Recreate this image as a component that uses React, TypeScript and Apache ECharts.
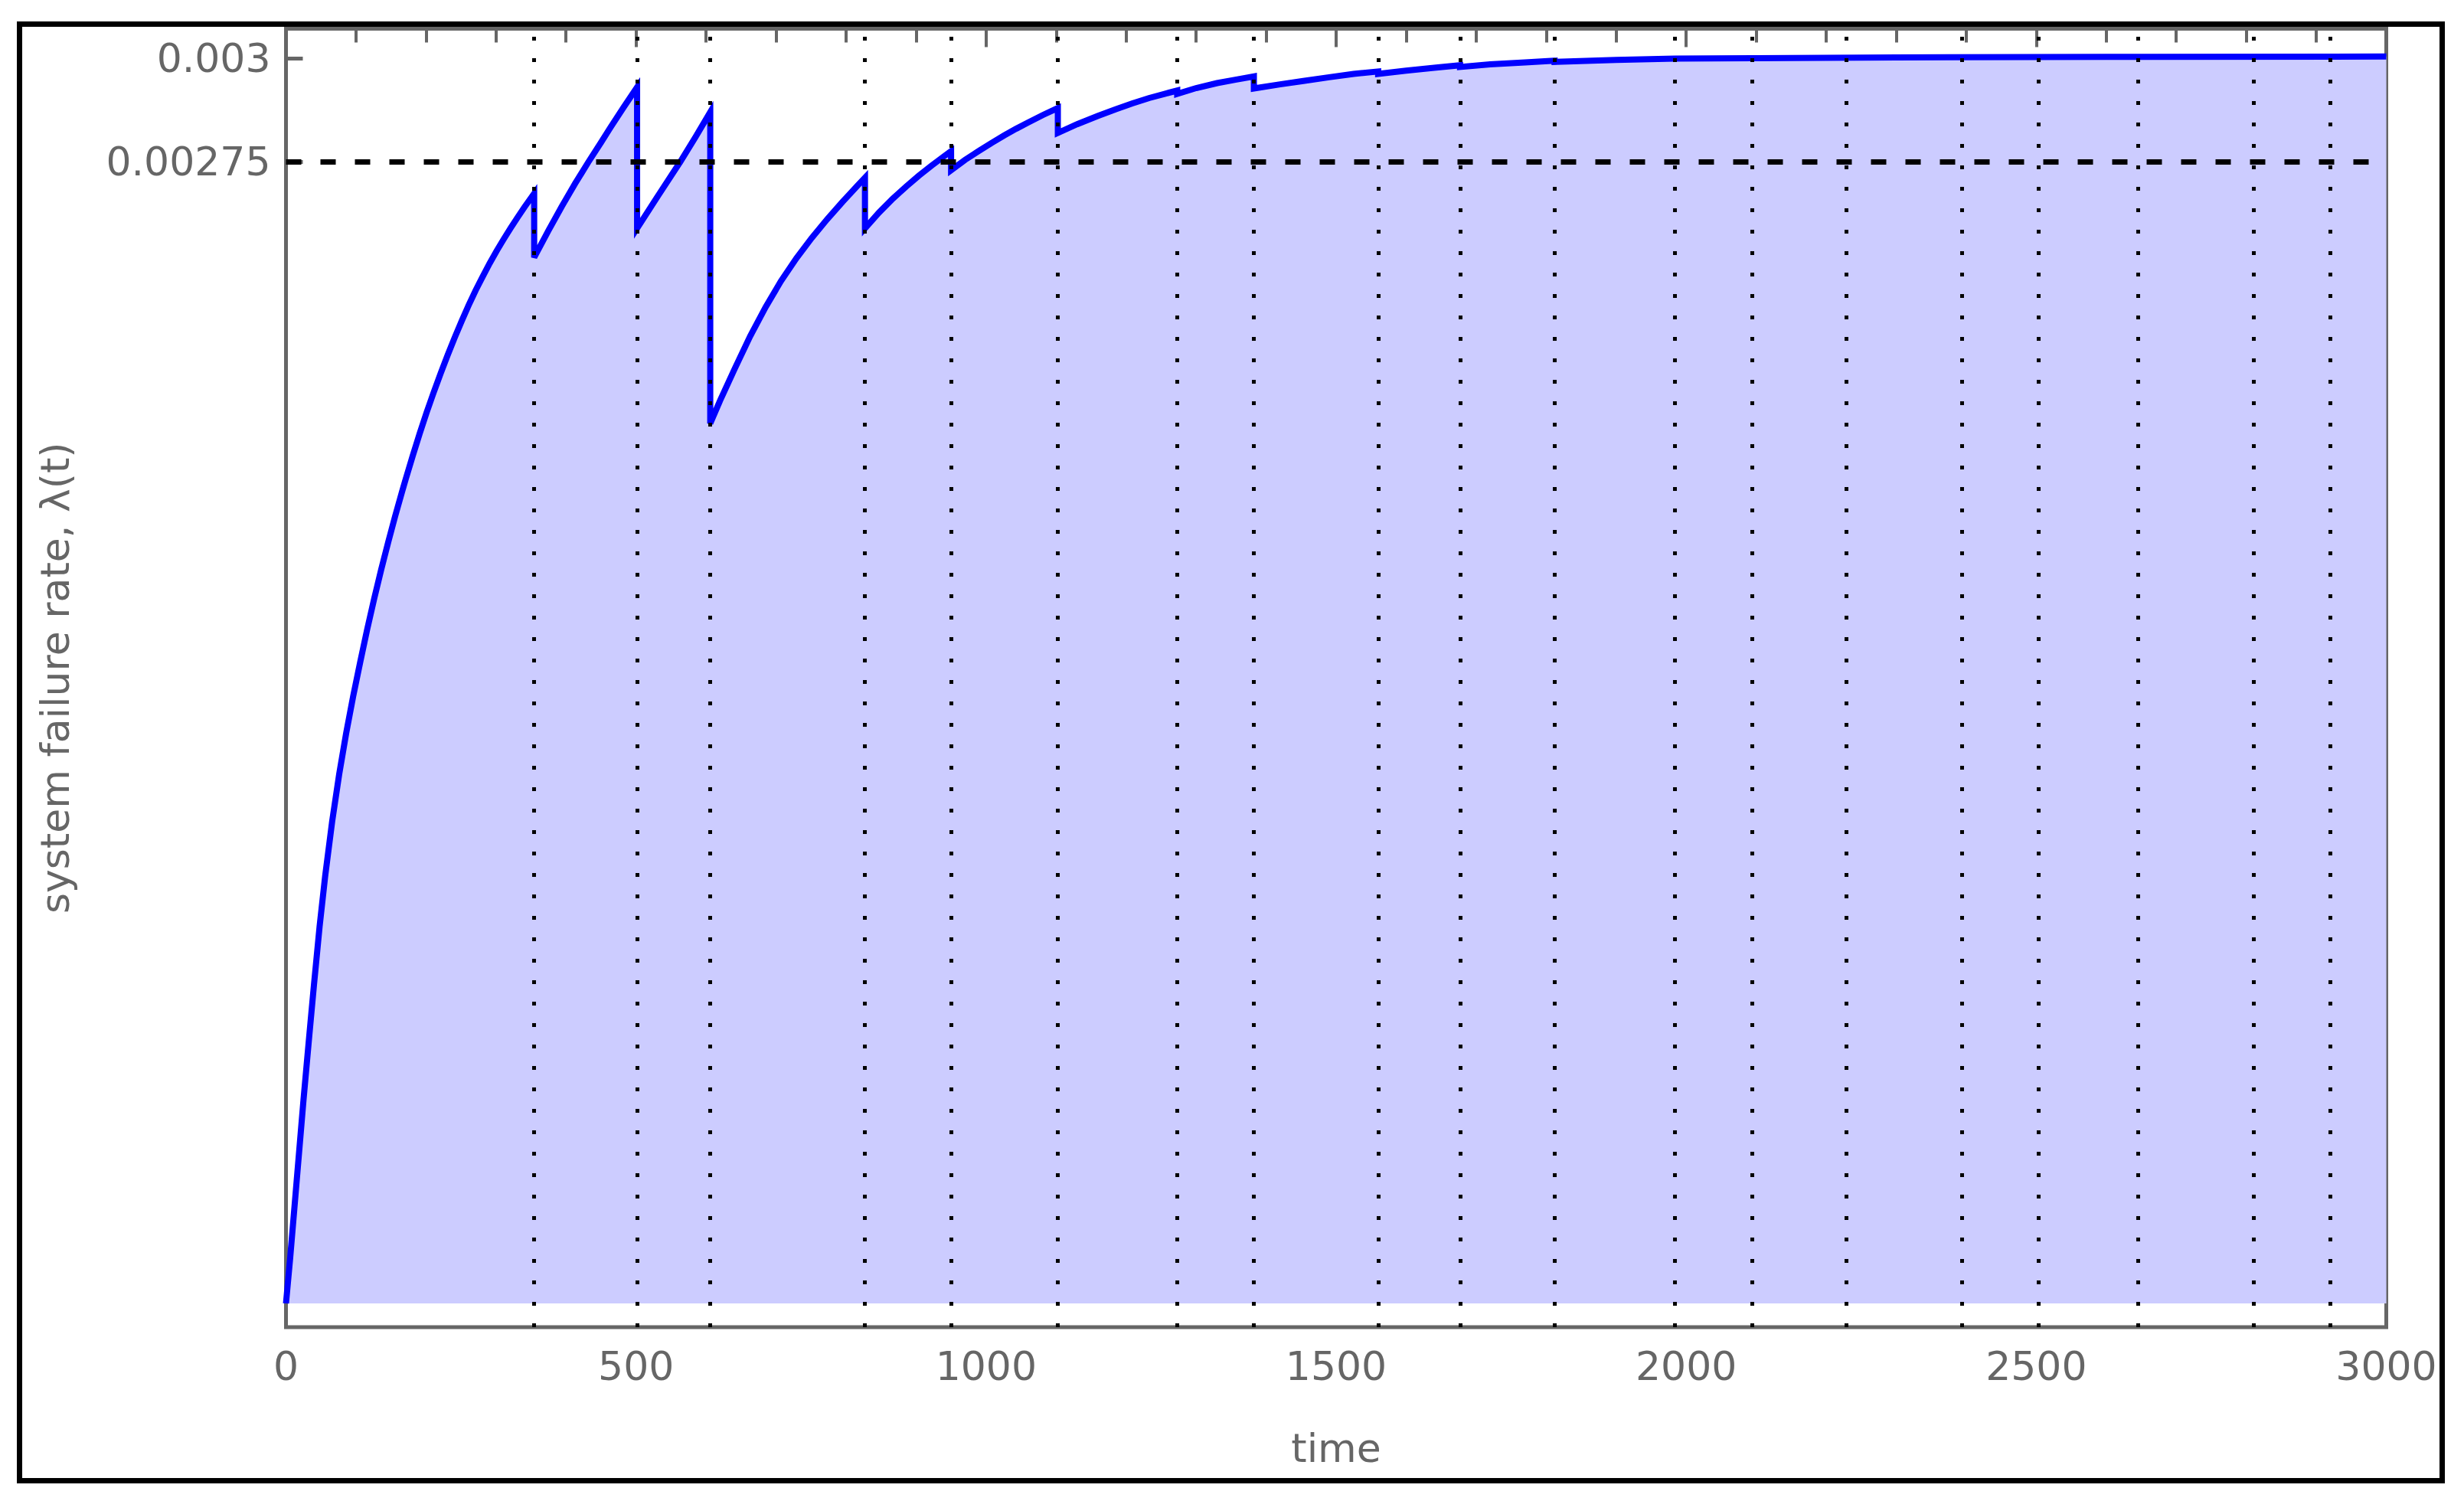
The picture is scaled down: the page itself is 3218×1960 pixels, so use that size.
import React, { useEffect, useRef } from "react";
import * as echarts from "echarts";

// time (x) and system failure rate λ(t) (y); a repeated time marks a drop at a maintenance instant
const timePoints = [
  0, 6, 12, 18, 25, 33, 40, 48, 56, 66, 76, 86, 96, 106, 116, 126, 136, 146, 156, 166, 171, 181, 191, 201, 211, 221, 231, 241, 251, 261, 271, 281, 291, 301, 311, 321, 331, 341, 354.5,
  354.5, 375, 394, 413, 432, 450, 463, 482, 501.5,
  501.5, 532, 563, 585, 606,
  606, 620, 641, 663, 685, 707, 729, 751, 773, 795, 817, 827,
  827, 847, 867, 886, 904, 922, 941, 950,
  950, 970, 990, 1008, 1026, 1043, 1060, 1081, 1102.5,
  1102.5, 1130, 1160, 1185, 1209, 1233, 1257, 1273,
  1273, 1300, 1330, 1356, 1382.5,
  1382.5, 1420, 1453, 1490, 1525, 1560,
  1560, 1600, 1640, 1677,
  1677, 1720, 1770, 1812,
  1812, 1900, 1984, 2100, 2300, 2600, 3000,
];
const failureRate = [
  0, 0.00011, 0.00023, 0.00035, 0.00049, 0.00064, 0.000768, 0.000908, 0.00103, 0.001162, 0.001275, 0.001374, 0.001463, 0.001545, 0.001624, 0.001698, 0.001768, 0.001834, 0.001897, 0.001957, 0.001986, 0.002042, 0.002096, 0.002147, 0.002195, 0.002241, 0.002285, 0.002327, 0.002367, 0.002405, 0.002441, 0.002474, 0.002506, 0.002536, 0.002564, 0.002591, 0.002617, 0.002642, 0.002674,
  0.00252, 0.002585, 0.002643, 0.002698, 0.00275, 0.002797, 0.002832, 0.002881, 0.00293,
  0.00259, 0.00267, 0.00275, 0.00281, 0.00287,
  0.00212, 0.002175, 0.002252, 0.00233, 0.0024, 0.002463, 0.002518, 0.002567, 0.002612, 0.002654, 0.002694, 0.002712,
  0.00259, 0.002628, 0.002662, 0.002691, 0.002717, 0.002741, 0.002765, 0.002776,
  0.00273, 0.002755, 0.002777, 0.002796, 0.002814, 0.00283, 0.002845, 0.002863, 0.00288,
  0.00282, 0.002841, 0.002861, 0.002877, 0.002891, 0.002904, 0.002915, 0.002922,
  0.002914, 0.002928, 0.00294, 0.002948, 0.002956,
  0.002927, 0.002937, 0.002945, 0.002954, 0.002962, 0.002968,
  0.002962, 0.00297, 0.002977, 0.002983,
  0.002979, 0.002985, 0.00299, 0.002994,
  0.002991, 0.002996, 0.002999, 0.003, 0.003002, 0.003003, 0.003004,
];
// vertical dotted lines (maintenance instants)
const maintenanceTimes = [
  354.5, 501.5, 606, 827, 950, 1102.5, 1273, 1382.5, 1560, 1677, 1812, 1984, 2094, 2229, 2394, 2503, 2645, 2810, 2920,
];
const thresholdRate = 0.00275;
const timeRange = [0, 3000];
const yTickValues = [0.00275, 0.003];
const yTickLabels = ["0.00275", "0.003"];

const FONT = "DejaVu Sans";
const GRAY = "#666666";

export default function App() {
  const ref = useRef<HTMLDivElement>(null);
  useEffect(() => {
    document.body.style.margin = "0";
    const chart = echarts.init(ref.current as HTMLDivElement, null, { renderer: "svg" });
    const yMin = -0.0000572;
    const yMax = 0.003071;
    chart.setOption({
      animation: false,
      backgroundColor: "#ffffff",
      textStyle: { fontFamily: FONT },
      grid: {
        left: 373.5,
        top: 37.5,
        right: 101.5,
        bottom: 227,
        show: true,
        borderColor: GRAY,
        borderWidth: 5,
        backgroundColor: "transparent",
      },
      graphic: [
        {
          type: "rect",
          shape: { x: 25.5, y: 31.5, width: 3164, height: 1902 },
          style: { fill: "none", stroke: "#000", lineWidth: 7 },
          silent: true,
          z: 100,
        },
      ],
      xAxis: [
        {
          type: "value",
          position: "bottom",
          min: timeRange[0],
          max: timeRange[1],
          interval: 500,
          name: "time",
          nameLocation: "middle",
          nameGap: 132,
          nameTextStyle: { color: GRAY, fontSize: 52, fontFamily: FONT },
          axisLine: { show: false },
          axisTick: { show: true, inside: true, length: 20, lineStyle: { color: GRAY, width: 4 } },
          minorTick: { show: true, splitNumber: 5, length: 14, lineStyle: { color: GRAY, width: 4 } },
          axisLabel: {
            color: GRAY,
            fontSize: 52,
            margin: 25,
            fontFamily: FONT,
            formatter: (v: number) => String(v),
          },
          splitLine: { show: false },
          minorSplitLine: { show: false },
        },
        {
          type: "value",
          position: "top",
          min: timeRange[0],
          max: timeRange[1],
          interval: 500,
          axisLine: { show: false },
          axisTick: { show: true, inside: true, length: 24, lineStyle: { color: GRAY, width: 4 } },
          minorTick: { show: true, splitNumber: 5, length: 18, lineStyle: { color: GRAY, width: 4 } },
          axisLabel: { show: false },
          splitLine: { show: false },
          minorSplitLine: { show: false },
        },
      ],
      yAxis: {
        type: "value",
        min: yMin,
        max: yMax,
        name: "system failure rate, \u03bb(t)",
        nameLocation: "middle",
        nameGap: 276,
        nameTextStyle: { color: GRAY, fontSize: 52, fontFamily: FONT },
        axisLine: { show: false },
        axisTick: {
          show: true,
          inside: true,
          length: 22,
          customValues: yTickValues,
          lineStyle: { color: GRAY, width: 5 },
        },
        axisLabel: {
          customValues: yTickValues,
          color: GRAY,
          fontSize: 52,
          margin: 20,
          fontFamily: FONT,
          formatter: (v: number) => {
            const i = yTickValues.findIndex((t) => Math.abs(t - v) < 1e-9);
            return i >= 0 ? yTickLabels[i] : "";
          },
        },
        splitLine: { show: false },
      },
      series: [
        {
          type: "line",
          xAxisIndex: 0,
          data: timePoints.map((t, i) => [t, failureRate[i]]),
          symbol: "none",
          showSymbol: false,
          lineStyle: { color: "#0000ff", width: 8, join: "miter" },
          areaStyle: { color: "#ccccff", opacity: 1 },
          z: 2,
        },
        {
          type: "line",
          xAxisIndex: 0,
          data: [],
          z: 5,
          markLine: {
            silent: true,
            symbol: "none",
            label: { show: false },
            lineStyle: { color: "#000000", width: 5, type: [5, 23] },
            data: maintenanceTimes.map((t) => ({ xAxis: t })),
          },
        },
        {
          type: "line",
          xAxisIndex: 0,
          data: timeRange.map((t) => [t, thresholdRate]),
          symbol: "none",
          showSymbol: false,
          z: 6,
          lineStyle: { color: "#000000", width: 7, type: [20, 25] },
        },
      ],
    });
    return () => chart.dispose();
  }, []);
  return <div ref={ref} style={{ width: 3218, height: 1960 }} />;
}
